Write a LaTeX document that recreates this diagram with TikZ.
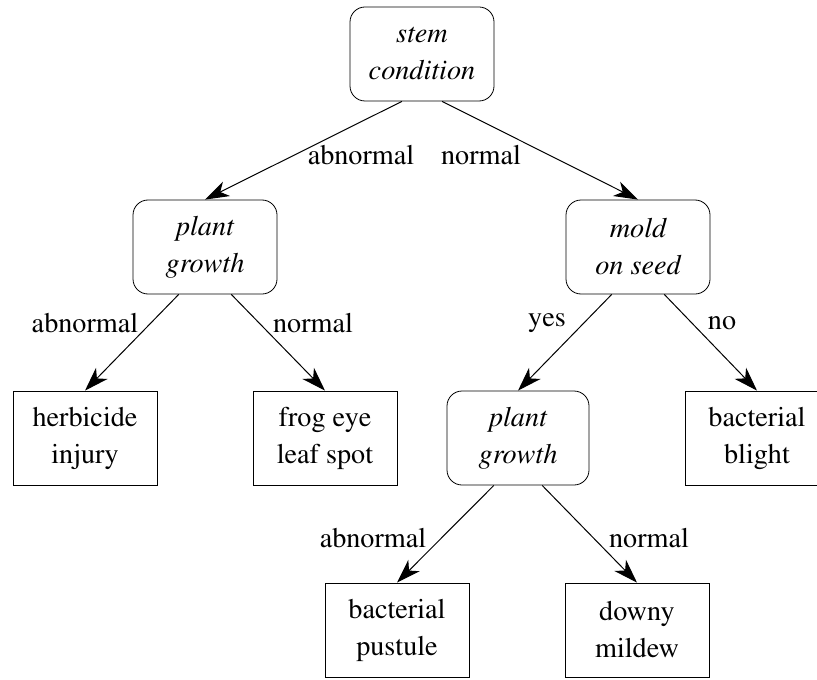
\documentclass[tikz,border=0pt]{standalone}
\usepackage[T1]{fontenc}
\renewcommand{\rmdefault}{ptm}
\usepackage{tikz}
\usetikzlibrary{arrows.meta}

\begin{document}
\begin{tikzpicture}[x=0.5pt,y=-0.5pt,
  every node/.style={font=\fontsize{14.1pt}{18.5pt}\selectfont},
  testnode/.style={draw,rounded corners=7.5pt,minimum width=72pt,minimum height=47pt,inner sep=0pt,align=center,font=\itshape\fontsize{14.1pt}{18.5pt}\selectfont},
  leafnode/.style={draw,minimum width=72pt,minimum height=47pt,inner sep=0pt,align=center},
  treeedge/.style={-{Stealth[length=12pt,width=8pt,inset=3.5pt]},line width=0.5pt}]
  \useasboundingbox (0,0) rectangle (817,679);

  \draw (422,54) node[testnode](stem) {stem\\condition};

  \draw (205,247) node[testnode](growthA) {plant\\growth};
  \draw (638,247) node[testnode](mold)    {mold\\on seed};

  \draw ( 85,438) node[leafnode](herbicide) {herbicide\\injury};
  \draw (325,438) node[leafnode](frogeye)   {frog eye\\leaf spot};
  \draw (518,438) node[testnode,minimum width=71pt](growthB) {plant\\growth};
  \draw (757,438) node[leafnode](blight) {bacterial\\blight};

  \draw (397,630) node[leafnode](pustule) {bacterial\\pustule};
  \draw (637,630) node[leafnode](mildew)  {downy\\mildew};

  \draw (361,155) node(lAbn)  {abnormal};
  \draw (481,155) node(lNorm) {normal};
  \draw ( 85,323) node(lAbnA)  {abnormal};
  \draw (313,323) node(lNormA) {normal};
  \draw (547,323) node(lYes) {yes};
  \draw (722,323) node(lNo)  {no};
  \draw (373,538) node(lAbnB)  {abnormal};
  \draw (649,538) node(lNormB) {normal};

  \draw[treeedge] (stem.-113) -- (growthA.north);
  \draw[treeedge] (stem.-67)  -- (mold.north);

  \draw[treeedge] (growthA.-119) -- (herbicide.north);
  \draw[treeedge] (growthA.-61)  -- (frogeye.north);

  \draw[treeedge] (mold.-119) -- (growthB.north);
  \draw[treeedge] (mold.-61)  -- (blight.north);

  \draw[treeedge] (growthB.-117) -- (pustule.north);
  \draw[treeedge] (growthB.-63)  -- (mildew.north);
\end{tikzpicture}
\end{document}
